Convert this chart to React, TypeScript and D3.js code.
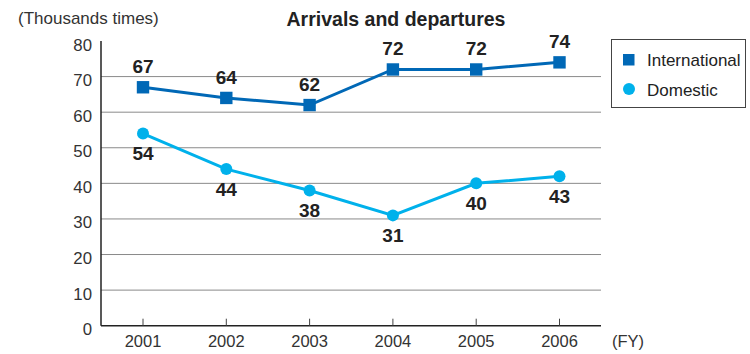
import React from "react";
import * as d3 from "d3";

const years = ["2001", "2002", "2003", "2004", "2005", "2006"];
const international = [67, 64, 62, 72, 72, 74];
const domestic = [54, 44, 38, 31, 40, 42];
const domesticLabels = ["54", "44", "38", "31", "40", "43"];
const yTicks = [0, 10, 20, 30, 40, 50, 60, 70, 80];

const W = 750, H = 354;
const left = 101, right = 601, top = 41, bottom = 325.7;
const font = "'Liberation Sans', Arial, Helvetica, sans-serif";
const cInt = "#0068b6";
const cDom = "#00b1eb";

export default function App() {
  const x = d3.scalePoint<string>().domain(years).range([143, 559.5]);
  const y = d3.scaleLinear().domain([0, 80]).range([bottom, top]);
  const line = d3.line<number>().x((_, i) => x(years[i])!).y((d) => y(d));

  return (
    <svg width={W} height={H} style={{ position: "absolute", left: 0, top: 0, fontFamily: font }}>
      <rect width={W} height={H} fill="#fff" />
      {yTicks.map((t) => (
        <g key={t}>
          {t > 0 && t < 80 && <line x1={left} x2={right} y1={y(t)} y2={y(t)} stroke="#8a8a8a" strokeWidth={1} />}
          <text x={92} y={y(t) + 9.5} textAnchor="end" fontSize={16.8} fill="#333">{t}</text>
        </g>
      ))}
      <line x1={left} x2={left} y1={top} y2={bottom} stroke="#222" strokeWidth={1.5} />
      <line x1={left} x2={right} y1={bottom} y2={bottom} stroke="#222" strokeWidth={1.5} />
      {years.map((yr) => (
        <g key={yr}>
          <line x1={x(yr)} x2={x(yr)} y1={bottom} y2={bottom - 7} stroke="#444" strokeWidth={1} />
          <text x={x(yr)} y={347} textAnchor="middle" fontSize={16.5} fill="#333">{yr}</text>
        </g>
      ))}
      <text x={612} y={347} fontSize={16.5} fill="#333">(FY)</text>
      <text x={18} y={24} fontSize={17} fill="#333">(Thousands times)</text>
      <text x={396} y={26} textAnchor="middle" fontSize={19.5} fontWeight="bold" fill="#222">Arrivals and departures</text>

      <path d={line(international)!} fill="none" stroke={cInt} strokeWidth={3} />
      <path d={line(domestic)!} fill="none" stroke={cDom} strokeWidth={3} />
      {international.map((v, i) => (
        <g key={"i" + i}>
          <rect x={x(years[i])! - 6.2} y={y(v) - 6.2} width={12.4} height={12.4} fill={cInt} />
          <text x={x(years[i])} y={y(v) - 14} textAnchor="middle" fontSize={19} fontWeight="bold" fill="#222">{v}</text>
        </g>
      ))}
      {domestic.map((v, i) => (
        <g key={"d" + i}>
          <circle cx={x(years[i])} cy={y(v)} r={6} fill={cDom} />
          <text x={x(years[i])} y={y(v) + 26.5} textAnchor="middle" fontSize={19} fontWeight="bold" fill="#222">{domesticLabels[i]}</text>
        </g>
      ))}

      <rect x={611.5} y={39.5} width={134} height={68} fill="#fff" stroke="#444" strokeWidth={1} />
      <rect x={623} y={54} width={11.5} height={11.5} fill={cInt} />
      <text x={647} y={65.5} fontSize={17} fill="#222">International</text>
      <circle cx={629} cy={89} r={6} fill={cDom} />
      <text x={647} y={95.5} fontSize={17} fill="#222">Domestic</text>
    </svg>
  );
}
